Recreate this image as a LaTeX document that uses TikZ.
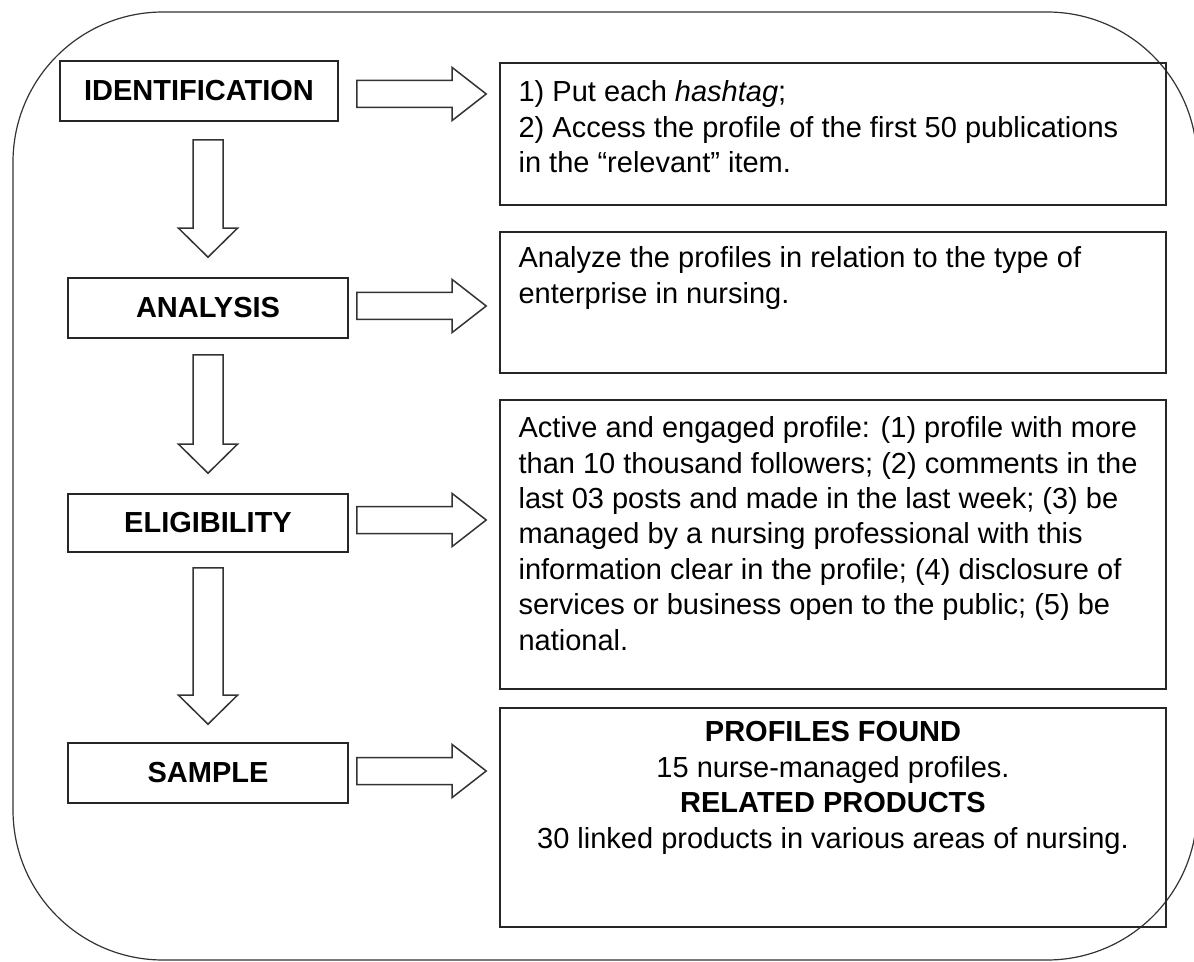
\documentclass[tikz,border=0pt]{standalone}
\usepackage{fontspec}
\setmainfont{Liberation Sans}
\usetikzlibrary{calc}

\newcommand{\flowfont}{\fontsize{14.5pt}{17.7pt}\selectfont}

% block arrows between two named points
\newcommand{\downblock}[2]{%
  \draw[blockarrow] let \p1=(#1), \p2=(#2) in
    (\x1-7.5pt,\y1) -- (\x1-7.5pt,\y2+14.5pt) -- (\x1-14.75pt,\y2+14.5pt) -- (\x1,\y2)
    -- (\x1+14.75pt,\y2+14.5pt) -- (\x1+7.5pt,\y2+14.5pt) -- (\x1+7.5pt,\y1) -- cycle;}
\newcommand{\rightblock}[2]{%
  \draw[blockarrow] let \p1=(#1), \p2=(#2) in
    (\x1,\y1+6.75pt) -- (\x2-17pt,\y1+6.75pt) -- (\x2-17pt,\y1+13.25pt) -- (\x2,\y1)
    -- (\x2-17pt,\y1-13.25pt) -- (\x2-17pt,\y1-6.75pt) -- (\x1,\y1-6.75pt) -- cycle;}

\tikzset{
  stepbox/.style={draw=black!85, line width=0.8pt, minimum width=140pt, minimum height=30pt,
    inner sep=0pt, font=\flowfont\bfseries},
  infobox/.style={draw=black!85, line width=0.8pt, minimum width=333pt, inner sep=0pt},
  infotext/.style={inner sep=0pt, align=left, anchor=north west, font=\flowfont},
  blockarrow/.style={draw=black!80, line width=0.75pt, fill=white},
}

\begin{document}
\begin{tikzpicture}[x=0.5pt,y=-0.5pt]

\useasboundingbox (0,0) rectangle (1194,962);
\draw[line width=0.6pt, black!80, rounded corners=75pt] (13,12) rectangle (1197,960);

\node[stepbox, minimum width=139pt] (ident) at (199,91) {IDENTIFICATION};
\node[stepbox] (analysis) at (208,308) {ANALYSIS};
\node[stepbox, minimum height=29pt] (elig) at (208,523) {ELIGIBILITY};
\node[stepbox] (sample) at (208,773) {SAMPLE};

\node[infobox, minimum height=71pt] (hashbox) at (833,134) {};
\node[infobox, minimum height=70.5pt] (analbox) at (833,302.5) {};
\node[infobox, minimum height=144.5pt] (eligbox) at (833,544.5) {};
\node[infobox, minimum height=109.5pt] (samplebox) at (833,817.5) {};

\node[infotext] (hashtxt) at ($(hashbox.north west)+(19,18)$)
  {1) Put each \textit{hashtag};\\2) Access the profile of the first 50 publications\\in the “relevant” item.};
\node[infotext] (analtxt) at ($(analbox.north west)+(19,15)$)
  {Analyze the profiles in relation to the type of\\enterprise in nursing.};
\node[infotext] (eligtxt) at ($(eligbox.north west)+(19,17)$)
  {Active and engaged profile: (1) profile with more\\than 10 thousand followers; (2) comments in the\\last 03 posts and made in the last week; (3) be\\managed by a nursing professional with this\\information clear in the profile; (4) disclosure of\\services or business open to the public; (5) be\\national.};
\node[infotext, align=center, anchor=north] (sampletxt) at ($(samplebox.north)+(0,14)$)
  {\textbf{PROFILES FOUND}\\15 nurse-managed profiles.\\\textbf{RELATED PRODUCTS}\\30 linked products in various areas of nursing.};

\downblock{$(analysis.north |- ident.south)+(0,18)$}{$(analysis.north)+(0,-20)$}
\downblock{$(analysis.south)+(0,16)$}{$(elig.north)+(0,-20)$}
\downblock{$(elig.south)+(0,15)$}{$(sample.north)+(0,-18)$}

\rightblock{$(ident.east)+(18,3)$}{$(hashbox.west |- ident.east)+(-13,3)$}
\rightblock{$(analysis.east)+(8,-2)$}{$(analbox.west |- analysis.east)+(-13,-2)$}
\rightblock{$(elig.east)+(8,-3)$}{$(eligbox.west |- elig.east)+(-13,-3)$}
\rightblock{$(sample.east)+(8,-2)$}{$(samplebox.west |- sample.east)+(-13,-2)$}

\end{tikzpicture}
\end{document}
